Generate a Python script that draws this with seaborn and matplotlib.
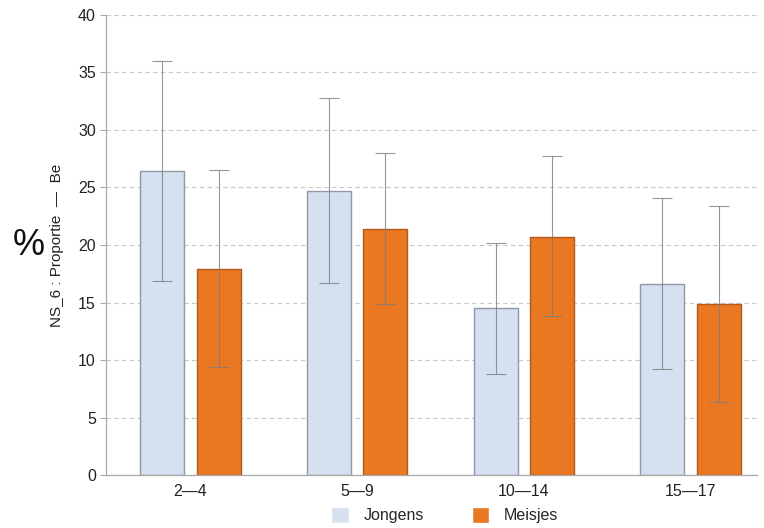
import pandas as pd
import seaborn as sns
import matplotlib.pyplot as plt

age_groups = ["2—4", "5—9", "10—14", "15—17"]
jongens = [26.4, 24.7, 14.5, 16.6]
jongens_lo = [16.9, 16.7, 8.8, 9.2]
jongens_hi = [36.0, 32.8, 20.2, 24.1]
meisjes = [17.9, 21.4, 20.7, 14.9]
meisjes_lo = [9.4, 14.9, 13.8, 6.4]
meisjes_hi = [26.5, 28.0, 27.7, 23.4]

df = pd.DataFrame({
    "leeftijd": age_groups * 2,
    "waarde": jongens + meisjes,
    "geslacht": ["Jongens"] * 4 + ["Meisjes"] * 4,
    "lo": jongens_lo + meisjes_lo,
    "hi": jongens_hi + meisjes_hi,
})

sns.set_style("white")
plt.rcParams["font.family"] = ["Liberation Sans", "DejaVu Sans"]

fig = plt.figure(figsize=(7.64, 5.28), dpi=100)
ax = fig.add_axes([0.139, 0.100, 0.852, 0.872])

palette = {"Jongens": "#d5e1f0", "Meisjes": "#ea7722"}
sns.barplot(data=df, x="leeftijd", y="waarde", hue="geslacht", palette=palette,
            width=0.675, gap=0.215, errorbar=None, ax=ax, saturation=1, zorder=2)

edge = {"Jongens": "#8e98a6", "Meisjes": "#b4591c"}
for cont, g in zip(ax.containers, ["Jongens", "Meisjes"]):
    sub = df[df["geslacht"] == g]
    xs = []
    for bar in cont:
        bar.set_edgecolor(edge[g])
        bar.set_linewidth(1.0)
        xs.append(bar.get_x() + bar.get_width() / 2)
    vals = sub["waarde"].to_numpy()
    yerr = [vals - sub["lo"].to_numpy(), sub["hi"].to_numpy() - vals]
    ax.errorbar(xs, vals, yerr=yerr, fmt="none", ecolor="#7d7d7d",
                elinewidth=0.8, capsize=7, capthick=0.8, zorder=3, alpha=0.8)

ax.set_ylim(0, 40)
ax.set_xlim(-0.506, 3.4)
ax.set_yticks(range(0, 41, 5))
ax.yaxis.grid(True, linestyle=(0, (4, 3)), color="#c8c8c8", linewidth=0.8)
ax.set_axisbelow(True)
for s in ["top", "right"]:
    ax.spines[s].set_visible(False)
for s in ["left", "bottom"]:
    ax.spines[s].set_color("#a8a8a8")
    ax.spines[s].set_linewidth(0.9)
ax.tick_params(axis="y", length=4, color="#a8a8a8", labelsize=11.5, labelcolor="#222222", left=True)
ax.tick_params(axis="x", length=0, labelsize=11.5, labelcolor="#222222", pad=6)
ax.set_xlabel("")
ax.set_ylabel("NS_6 : Proportie  —  Be", fontsize=11, color="#222222", labelpad=10)
fig.text(0.037, 0.535, "%", fontsize=26, ha="center", va="center", color="#111111")

ax.legend(title=None, loc="center", bbox_to_anchor=(0.52, -0.087), ncol=2,
          frameon=False, fontsize=11.5, handlelength=1.1, handleheight=1.1,
          columnspacing=3.0, handletextpad=0.9)

fig.savefig("out.png", dpi=100)
